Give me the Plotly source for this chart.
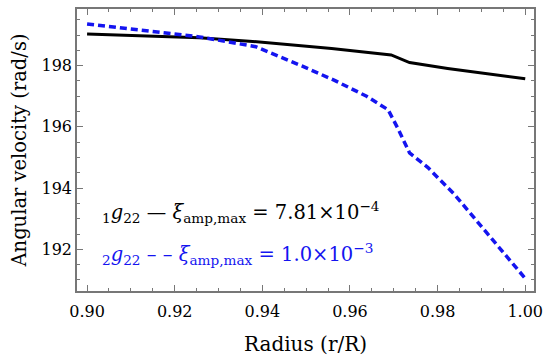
import plotly.graph_objects as go

# data
r_black = [0.900, 0.9256, 0.937, 0.9558, 0.9694, 0.9736, 0.9823, 1.000]
w_black = [199.03, 198.91, 198.80, 198.56, 198.35, 198.10, 197.91, 197.57]

r_blue = [0.900, 0.910, 0.920, 0.9256, 0.9385, 0.9438, 0.949, 0.9566, 0.9638, 0.9687,
          0.971, 0.9736, 0.9778, 0.9838, 1.000]
w_blue = [199.36, 199.20, 199.03, 198.94, 198.62, 198.31, 197.99, 197.51, 197.00, 196.56,
          195.93, 195.15, 194.67, 193.80, 191.05]

x_ticks = [0.90, 0.92, 0.94, 0.96, 0.98, 1.00]
x_tick_labels = ["0.90", "0.92", "0.94", "0.96", "0.98", "1.00"]
y_ticks = [192, 194, 196, 198]

label_black = "<sub>1</sub><i>g</i><sub>22</sub> — <i>ξ</i><sub>amp,max</sub> = 7.81×10<sup>−4</sup>"
label_blue = "<sub>2</sub><i>g</i><sub>22</sub> – – <i>ξ</i><sub>amp,max</sub> = 1.0×10<sup>−3</sup>"

FONT = "DejaVu Serif"
frame = "#777777"
BLUE = "#1414f0"

fig = go.Figure()
fig.add_trace(go.Scatter(x=r_black, y=w_black, mode="lines",
                         line=dict(color="black", width=3), showlegend=False))
fig.add_trace(go.Scatter(x=r_blue, y=w_blue, mode="lines",
                         line=dict(color=BLUE, width=3.5, dash="7px,4px"), showlegend=False))

axis_common = dict(showgrid=False, zeroline=False, showline=True, linecolor=frame, linewidth=1.5,
                   mirror="allticks", ticks="inside", tickcolor=frame, ticklen=6, tickwidth=1.2,
                   ticklabeloverflow="allow",
                   tickfont=dict(family=FONT, size=16, color="black"))

fig.update_xaxes(range=[0.8977, 1.002], tickvals=x_ticks, ticktext=x_tick_labels,
                 ticklabelstandoff=5,
                 title=dict(text="Radius (r/R)", font=dict(family=FONT, size=20, color="black"), standoff=17),
                 minor=dict(dtick=0.005, tick0=0.9, ticks="inside", ticklen=3, tickcolor=frame, tickwidth=1.2),
                 **axis_common)
fig.update_yaxes(range=[190.64, 199.85], tickvals=y_ticks,
                 title=dict(text="Angular velocity (rad/s)", font=dict(family=FONT, size=19.5, color="black"), standoff=10),
                 minor=dict(dtick=0.5, tick0=190, ticks="inside", ticklen=3, tickcolor=frame, tickwidth=1.2),
                 **axis_common)

fig.add_annotation(text=label_black, xref="paper", yref="paper", x=0.05, y=0.28,
                   xanchor="left", yanchor="middle", showarrow=False,
                   font=dict(family=FONT, size=19.5, color="black"))
fig.add_annotation(text=label_blue, xref="paper", yref="paper", x=0.05, y=0.13,
                   xanchor="left", yanchor="middle", showarrow=False,
                   font=dict(family=FONT, size=19.5, color=BLUE))

fig.update_layout(width=550, height=362, margin=dict(l=77, r=13, t=7, b=71),
                  plot_bgcolor="white", paper_bgcolor="white",
                  font=dict(family=FONT))

fig.write_html("out.html", config={"displayModeBar": False},
               post_script="document.body.style.margin='0';")
